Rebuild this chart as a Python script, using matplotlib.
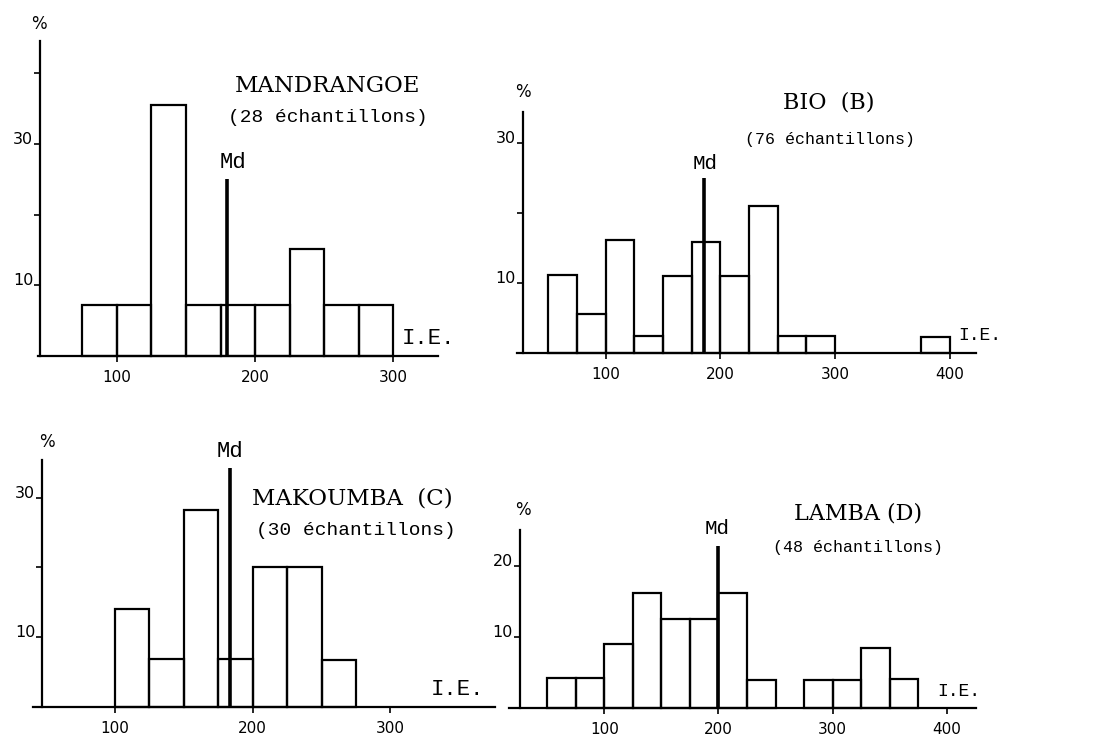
import matplotlib
matplotlib.use('Agg')
import matplotlib.pyplot as plt

W, H = 1116, 735

# histogram data (% of samples per I.E. class of width 25)
a_edges = [75, 100, 125, 150, 175, 200, 225, 250, 275]
a_pct = [7.2, 7.2, 35.5, 7.2, 7.2, 7.2, 15.2, 7.2, 7.2]
a_md, a_md_top = 180, 25.0

b_edges = [50, 75, 100, 125, 150, 175, 200, 225, 250, 275, 375]
b_pct = [11.1, 5.5, 16.1, 2.4, 10.9, 15.8, 10.9, 21.0, 2.4, 2.4, 2.3]
b_md, b_md_top = 186, 24.9

c_edges = [100, 125, 150, 175, 200, 225, 250]
c_pct = [14.0, 6.8, 28.2, 6.8, 20.0, 20.0, 6.7]
c_md, c_md_top = 183.5, 34.2

d_edges = [50, 75, 100, 125, 150, 175, 200, 225, 275, 300, 325, 350]
d_pct = [4.2, 4.2, 9.0, 16.3, 12.6, 12.6, 16.3, 4.0, 4.0, 4.0, 8.5, 4.1]
d_md, d_md_top = 199.5, 22.9

BIN = 25
MONO = 'Liberation Mono'
SERIF = 'DejaVu Serif'

fig = plt.figure(figsize=(W / 100, H / 100), dpi=100)


def panel(px_l, px_r, px_base, ppu, xlim, ymax, yaxis_x, yaxis_top,
          xticks, yticks, ylabels):
    ax = fig.add_axes([px_l / W, (H - px_base) / H,
                       (px_r - px_l) / W, ymax * ppu / H])
    ax.set_xlim(*xlim)
    ax.set_ylim(0, ymax)
    ax.patch.set_alpha(0)
    for s in ['top', 'right']:
        ax.spines[s].set_visible(False)
    ax.spines['left'].set_position(('data', yaxis_x))
    ax.spines['left'].set_bounds(0, yaxis_top)
    ax.spines['left'].set_linewidth(1.6)
    ax.spines['bottom'].set_linewidth(1.6)
    ax.set_xticks(xticks)
    ax.set_yticks(yticks, ylabels)
    ax.tick_params(axis='x', direction='out', length=4, width=1.2, pad=6,
                   labelsize=11)
    ax.tick_params(axis='y', direction='out', length=4, width=1.2, pad=1,
                   labelsize=11.5)
    for lbl in ax.get_yticklabels():
        lbl.set_verticalalignment('baseline')
    return ax


def draw(ax, edges, pct, md, md_top):
    ax.bar(edges, pct, width=BIN, align='edge', fill=False,
           edgecolor='black', linewidth=1.6, clip_on=False)
    ax.plot([md, md], [0, md_top], color='black', lw=2.6,
            solid_capstyle='butt', clip_on=False)


# A - Mandrangoe
ax = panel(38, 437.7, 356, 7.07, (43, 332), 48, 44.6, 44.5,
           [100, 200, 300], [10, 20, 30, 40], ['10', '', '30', ''])
draw(ax, a_edges, a_pct, a_md, a_md_top)
ax.text(43.5, 47, '%', ha='center', va='center', fontsize=12)
ax.text(252.7, 38.2, 'MANDRANGOE', ha='center', va='center',
        family=SERIF, fontsize=16.5)
ax.text(252.7, 33.7, '(28 échantillons)', ha='center', va='center',
        family=MONO, fontsize=14)
ax.text(184, 27.3, 'Md', ha='center', va='center', family=MONO, fontsize=16)
ax.text(306, 1.0, 'I.E.', ha='left', va='bottom', family=MONO, fontsize=16)

# B - Bio
ax = panel(516.7, 976, 352.7, 7.0, (22.3, 423), 40, 27.5, 34.4,
           [100, 200, 300, 400], [10, 20, 30], ['10', '', '30'])
draw(ax, b_edges, b_pct, b_md, b_md_top)
ax.text(27.8, 37.2, '%', ha='center', va='center', fontsize=12)
ax.text(294.2, 35.7, 'BIO  (B)', ha='center', va='center',
        family=SERIF, fontsize=16)
ax.text(296, 30.5, '(76 échantillons)', ha='center', va='center',
        family=MONO, fontsize=12)
ax.text(186.8, 27, 'Md', ha='center', va='center', family=MONO, fontsize=15)
ax.text(407.7, 1.2, 'I.E.', ha='left', va='bottom', family=MONO, fontsize=13)

# C - Makoumba
ax = panel(33, 495, 706.7, 6.97, (40.4, 376), 40, 47.1, 35.4,
           [100, 200, 300], [10, 20, 30], ['10', '', '30'])
draw(ax, c_edges, c_pct, c_md, c_md_top)
ax.text(50.6, 38, '%', ha='center', va='center', fontsize=12)
ax.text(183.7, 36.6, 'Md', ha='center', va='center', family=MONO, fontsize=16)
ax.text(272.4, 29.8, 'MAKOUMBA  (C)', ha='center', va='center',
        family=SERIF, fontsize=16.5)
ax.text(274.6, 25.3, '(30 échantillons)', ha='center', va='center',
        family=MONO, fontsize=14)
ax.text(329, 1.0, 'I.E.', ha='left', va='bottom', family=MONO, fontsize=16)

# D - Lamba
ax = panel(509.3, 976.4, 708.3, 7.1, (16.7, 426), 30, 26.1, 25.1,
           [100, 200, 300, 400], [10, 20], ['10', '20'])
draw(ax, d_edges, d_pct, d_md, d_md_top)
ax.text(28.7, 27.9, '%', ha='center', va='center', fontsize=12)
ax.text(198.5, 25.3, 'Md', ha='center', va='center', family=MONO, fontsize=15)
ax.text(322.3, 27.5, 'LAMBA (D)', ha='center', va='center',
        family=SERIF, fontsize=16)
ax.text(322.3, 22.6, '(48 échantillons)', ha='center', va='center',
        family=MONO, fontsize=12)
ax.text(391.5, 1.2, 'I.E.', ha='left', va='bottom', family=MONO, fontsize=13)

fig.savefig('out.png', dpi=100)
